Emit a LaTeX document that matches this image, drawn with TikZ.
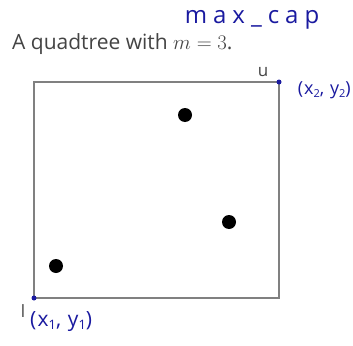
\documentclass[tikz,border=0pt]{standalone}
\usepackage{fontspec}
\setmainfont{Open Sans}
\newfontfamily\hand[LetterSpace=25]{Open Sans}
\newfontfamily\handc[LetterSpace=6]{Open Sans}
\definecolor{ink}{HTML}{1A1AA0}
\definecolor{txt}{HTML}{444444}
\definecolor{frame}{HTML}{808080}
\begin{document}
\begin{tikzpicture}[x=1pt,y=-1pt,
  pt/.style={circle,fill=black,inner sep=0pt,minimum size=14pt},
  corner/.style={circle,fill=ink,inner sep=0pt,minimum size=5pt},
  hw/.style={text=ink,inner sep=0pt},
  lbl/.style={text=txt,font=\fontsize{17}{17}\selectfont,inner sep=0pt}]
\useasboundingbox (0,0) rectangle (353,345);
\fill[white] (0,0) rectangle (353,345);
\node[anchor=base west,text=txt,font=\fontsize{21}{21}\selectfont,inner sep=0pt] (title) at (12,50) {A quadtree with $m=3$.};
\node[hw,anchor=center,font=\hand\fontsize{24}{24}\selectfont] (cap) at (252,20) {max\_cap};
\draw[frame,line width=1.3pt] (34,82) rectangle (279,298);
\node[corner] (u) at (279,82) {};
\node[corner] (l) at (34,298) {};
\node[pt] (p1) at (185,115) {};
\node[pt] (p2) at (229,222) {};
\node[pt] (p3) at (56,266) {};
\node[lbl,anchor=base] (ul) at (263,77) {u};
\node[lbl,anchor=base] (ll) at (23,317) {l};
\node[hw,anchor=east,font=\handc\fontsize{18}{18}\selectfont] (c2) at (351,90) {(x\raisebox{-3pt}{\fontsize{11}{11}\selectfont2}, y\raisebox{-3pt}{\fontsize{11}{11}\selectfont2})};
\node[hw,anchor=west,font=\handc\fontsize{21}{21}\selectfont] (c1) at (30,322) {(x\raisebox{-3pt}{\fontsize{13}{13}\selectfont1}, y\raisebox{-3pt}{\fontsize{13}{13}\selectfont1})};
\end{tikzpicture}
\end{document}
